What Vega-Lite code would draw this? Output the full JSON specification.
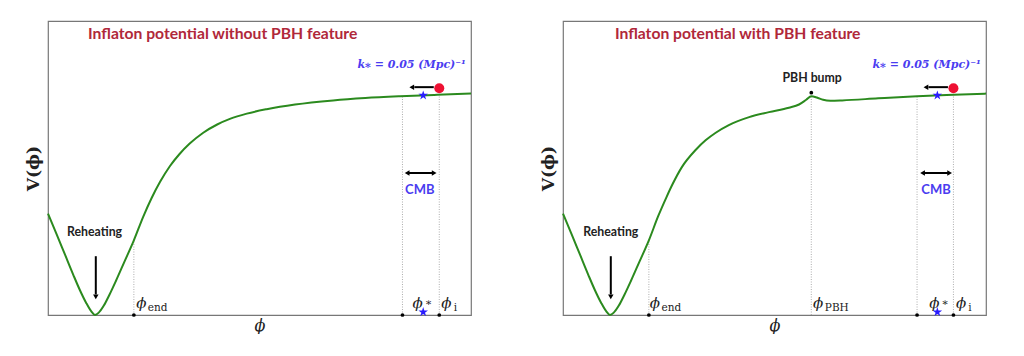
{
  "$schema": "https://vega.github.io/schema/vega-lite/v6.json",
  "padding": {"left": 23, "top": 20, "right": 0, "bottom": 0},
  "background": "white",
  "spacing": 62,
  "config": {
    "view": {"stroke": "#777777", "strokeWidth": 1.2},
    "axis": {"domain": false, "ticks": false, "labels": false, "grid": false}
  },
  "hconcat": [
    {
      "width": 423,
      "height": 294,
      "encoding": {
        "x": {"field": "x", "type": "quantitative", "scale": {"domain": [0, 100], "nice": false, "zero": false},
              "axis": {"title": "ϕ", "titleFont": "DejaVu Serif", "titleFontStyle": "italic", "titleFontWeight": "normal", "titleFontSize": 16, "titlePadding": 2, "titleColor": "#222"}},
        "y": {"field": "y", "type": "quantitative", "scale": {"domain": [0, 100], "nice": false, "zero": false},
              "axis": {"title": "V(ϕ)", "titleFont": "DejaVu Serif", "titleFontWeight": "bold", "titleFontSize": 17, "titlePadding": 6, "titleColor": "#222"}}
      },
      "layer": [
        {
          "data": {"values": [
            {"x": 20.3, "y": 0, "y2": 25.4},
            {"x": 83.8, "y": 0, "y2": 74.3},
            {"x": 92.5, "y": 0, "y2": 77}
          ]},
          "mark": {"type": "rule", "color": "#999999", "strokeWidth": 0.8, "strokeDash": [1, 1.5]},
          "encoding": {"y2": {"field": "y2"}}
        },
        {
          "data": {"values": [
            {"x": 0, "y": 34.5}, {"x": 2, "y": 27.6}, {"x": 4, "y": 20.6}, {"x": 6, "y": 13.6},
            {"x": 7.5, "y": 8.6}, {"x": 9, "y": 4.2}, {"x": 10.2, "y": 1.3}, {"x": 11.1, "y": 0},
            {"x": 12.0, "y": 0.8}, {"x": 13.2, "y": 3.2}, {"x": 14.5, "y": 6.8}, {"x": 16, "y": 11.4},
            {"x": 18, "y": 17.9}, {"x": 20.3, "y": 25.4}, {"x": 22.5, "y": 33.4}, {"x": 24.5, "y": 39.8},
            {"x": 26.5, "y": 45.3}, {"x": 28.8, "y": 50.6}, {"x": 31, "y": 54.6}, {"x": 33.5, "y": 58.3},
            {"x": 36.7, "y": 62.0}, {"x": 40, "y": 64.8}, {"x": 43, "y": 66.7}, {"x": 47, "y": 68.5},
            {"x": 51.7, "y": 70.0}, {"x": 58.4, "y": 71.6}, {"x": 67.4, "y": 73.0}, {"x": 75, "y": 73.8},
            {"x": 83.2, "y": 74.4}, {"x": 92, "y": 74.9}, {"x": 100, "y": 75.3}
          ]},
          "mark": {"type": "line", "interpolate": "monotone", "color": "#2b8a1e", "strokeWidth": 2}
        },
        {
          "data": {"values": [{"x": 20.3, "y": 0}, {"x": 83.8, "y": 0}, {"x": 92.5, "y": 0}]},
          "mark": {"type": "point", "filled": true, "color": "black", "size": 14, "opacity": 1}
        },
        {
          "data": {"values": [{"x": 88.7, "y": 74.7}, {"x": 88.7, "y": 1.0}]},
          "mark": {"type": "point", "filled": true, "color": "#2a1cff", "size": 100, "opacity": 1,
                   "shape": "M0,-1L0.22,-0.31L0.95,-0.31L0.36,0.12L0.59,0.81L0,0.38L-0.59,0.81L-0.36,0.12L-0.95,-0.31L-0.22,-0.31Z"}
        },
        {
          "data": {"values": [{"x": 92.5, "y": 77.1}]},
          "mark": {"type": "point", "filled": true, "color": "#ee1133", "size": 100, "opacity": 1}
        },
        {
          "data": {"values": [{"x": 86.6, "x2": 91.2, "y": 77.5}, {"x": 85.2, "x2": 90.9, "y": 48.3}]},
          "mark": {"type": "rule", "color": "black", "strokeWidth": 2},
          "encoding": {"x2": {"field": "x2"}}
        },
        {
          "data": {"values": [{"x": 11.3, "y": 20, "y2": 7}]},
          "mark": {"type": "rule", "color": "black", "strokeWidth": 2},
          "encoding": {"y2": {"field": "y2"}}
        },
        {
          "data": {"values": [{"x": 86.0, "y": 77.5}, {"x": 84.9, "y": 48.3}]},
          "mark": {"type": "point", "filled": true, "color": "black", "size": 30, "opacity": 1, "shape": "triangle-left"}
        },
        {
          "data": {"values": [{"x": 91.3, "y": 48.3}]},
          "mark": {"type": "point", "filled": true, "color": "black", "size": 30, "opacity": 1, "shape": "triangle-right"}
        },
        {
          "data": {"values": [{"x": 11.3, "y": 6.2}]},
          "mark": {"type": "point", "filled": true, "color": "black", "size": 30, "opacity": 1, "shape": "triangle-down"}
        },
        {
          "data": {"values": [{"x": 41.3, "y": 95.6, "label": "Inflaton potential without PBH feature"}]},
          "mark": {"type": "text", "font": "Lato", "fontWeight": "bold", "fontSize": 15.7, "color": "#b0283a", "align": "center", "baseline": "middle"},
          "encoding": {"text": {"field": "label"}}
        },
        {
          "data": {"values": [{"x": 11, "y": 28.3, "label": "Reheating"}]},
          "mark": {"type": "text", "font": "Lato", "fontWeight": "bold", "fontSize": 12.3, "color": "#222222", "align": "center", "baseline": "middle"},
          "encoding": {"text": {"field": "label"}}
        },
        {
          "data": {"values": [{"x": 87.9, "y": 42.4, "label": "CMB"}]},
          "mark": {"type": "text", "font": "Lato", "fontWeight": "bold", "fontSize": 13, "color": "#4a3cf0", "align": "center", "baseline": "middle"},
          "encoding": {"text": {"field": "label"}}
        },
        {
          "data": {"values": [{"x": 98.8, "y": 85, "label": "k⁎ = 0.05 (Mpc)⁻¹"}]},
          "mark": {"type": "text", "font": "DejaVu Serif", "fontWeight": "bold", "fontStyle": "italic", "fontSize": 11, "color": "#4a3cf0", "align": "right", "baseline": "middle"},
          "encoding": {"text": {"field": "label"}}
        },
        {
          "data": {"values": [{"x": 22.1, "y": 2.4, "label": "ϕ"}, {"x": 87.4, "y": 2.4, "label": "ϕ"}, {"x": 94.2, "y": 2.4, "label": "ϕ"}]},
          "mark": {"type": "text", "font": "DejaVu Serif", "fontStyle": "italic", "fontSize": 15, "color": "#222222", "align": "center", "baseline": "alphabetic"},
          "encoding": {"text": {"field": "label"}}
        },
        {
          "data": {"values": [{"x": 23.6, "y": 1.4, "label": "end"}, {"x": 89.1, "y": 3.0, "label": "∗"}, {"x": 95.9, "y": 1.4, "label": "i"}]},
          "mark": {"type": "text", "font": "DejaVu Serif", "fontSize": 10.5, "color": "#222222", "align": "left", "baseline": "alphabetic"},
          "encoding": {"text": {"field": "label"}}
        }
      ]
    },
    {
      "width": 423,
      "height": 294,
      "encoding": {
        "x": {"field": "x", "type": "quantitative", "scale": {"domain": [0, 100], "nice": false, "zero": false},
              "axis": {"title": "ϕ", "titleFont": "DejaVu Serif", "titleFontStyle": "italic", "titleFontWeight": "normal", "titleFontSize": 16, "titlePadding": 2, "titleColor": "#222"}},
        "y": {"field": "y", "type": "quantitative", "scale": {"domain": [0, 100], "nice": false, "zero": false},
              "axis": {"title": "V(ϕ)", "titleFont": "DejaVu Serif", "titleFontWeight": "bold", "titleFontSize": 17, "titlePadding": 6, "titleColor": "#222"}}
      },
      "layer": [
        {
          "data": {"values": [
            {"x": 20.3, "y": 0, "y2": 25.4},
            {"x": 58.7, "y": 0, "y2": 74.4},
            {"x": 83.7, "y": 0, "y2": 74.4},
            {"x": 92.3, "y": 0, "y2": 77}
          ]},
          "mark": {"type": "rule", "color": "#999999", "strokeWidth": 0.8, "strokeDash": [1, 1.5]},
          "encoding": {"y2": {"field": "y2"}}
        },
        {
          "data": {"values": [
            {"x": 0, "y": 34.5}, {"x": 2, "y": 27.6}, {"x": 4, "y": 20.6}, {"x": 6, "y": 13.6},
            {"x": 7.5, "y": 8.6}, {"x": 9, "y": 4.2}, {"x": 10.2, "y": 1.3}, {"x": 11.1, "y": 0},
            {"x": 12.0, "y": 0.8}, {"x": 13.2, "y": 3.2}, {"x": 14.5, "y": 6.8}, {"x": 16, "y": 11.4},
            {"x": 18, "y": 17.9}, {"x": 20.3, "y": 25.4}, {"x": 22.5, "y": 33.6}, {"x": 24.5, "y": 40.2},
            {"x": 25.8, "y": 44.2}, {"x": 28.1, "y": 50.3}, {"x": 31.4, "y": 56.2}, {"x": 33.7, "y": 59.4},
            {"x": 36.1, "y": 62.0}, {"x": 39.2, "y": 64.6}, {"x": 44.0, "y": 67.3}, {"x": 48.7, "y": 69.0},
            {"x": 53.4, "y": 70.5}, {"x": 55.8, "y": 71.6}, {"x": 57.5, "y": 73.2}, {"x": 58.7, "y": 74.4},
            {"x": 60.0, "y": 74.0}, {"x": 61.5, "y": 73.2}, {"x": 63.2, "y": 72.9}, {"x": 66, "y": 73.0},
            {"x": 74.5, "y": 73.7}, {"x": 83.7, "y": 74.4}, {"x": 92.4, "y": 74.9}, {"x": 100, "y": 75.3}
          ]},
          "mark": {"type": "line", "interpolate": "monotone", "color": "#2b8a1e", "strokeWidth": 2}
        },
        {
          "data": {"values": [{"x": 20.3, "y": 0}, {"x": 83.7, "y": 0}, {"x": 92.3, "y": 0}, {"x": 58.7, "y": 75.6}]},
          "mark": {"type": "point", "filled": true, "color": "black", "size": 14, "opacity": 1}
        },
        {
          "data": {"values": [{"x": 88.5, "y": 74.7}, {"x": 88.5, "y": 1.0}]},
          "mark": {"type": "point", "filled": true, "color": "#2a1cff", "size": 100, "opacity": 1,
                   "shape": "M0,-1L0.22,-0.31L0.95,-0.31L0.36,0.12L0.59,0.81L0,0.38L-0.59,0.81L-0.36,0.12L-0.95,-0.31L-0.22,-0.31Z"}
        },
        {
          "data": {"values": [{"x": 92.3, "y": 77.1}]},
          "mark": {"type": "point", "filled": true, "color": "#ee1133", "size": 100, "opacity": 1}
        },
        {
          "data": {"values": [{"x": 86.4, "x2": 91.0, "y": 77.5}, {"x": 85.3, "x2": 91.0, "y": 48.3}]},
          "mark": {"type": "rule", "color": "black", "strokeWidth": 2},
          "encoding": {"x2": {"field": "x2"}}
        },
        {
          "data": {"values": [{"x": 11.3, "y": 20, "y2": 7}]},
          "mark": {"type": "rule", "color": "black", "strokeWidth": 2},
          "encoding": {"y2": {"field": "y2"}}
        },
        {
          "data": {"values": [{"x": 85.8, "y": 77.5}, {"x": 85.0, "y": 48.3}]},
          "mark": {"type": "point", "filled": true, "color": "black", "size": 30, "opacity": 1, "shape": "triangle-left"}
        },
        {
          "data": {"values": [{"x": 91.4, "y": 48.3}]},
          "mark": {"type": "point", "filled": true, "color": "black", "size": 30, "opacity": 1, "shape": "triangle-right"}
        },
        {
          "data": {"values": [{"x": 11.3, "y": 6.2}]},
          "mark": {"type": "point", "filled": true, "color": "black", "size": 30, "opacity": 1, "shape": "triangle-down"}
        },
        {
          "data": {"values": [{"x": 41.3, "y": 95.6, "label": "Inflaton potential with PBH feature"}]},
          "mark": {"type": "text", "font": "Lato", "fontWeight": "bold", "fontSize": 15.7, "color": "#b0283a", "align": "center", "baseline": "middle"},
          "encoding": {"text": {"field": "label"}}
        },
        {
          "data": {"values": [{"x": 11.3, "y": 28.3, "label": "Reheating"}, {"x": 58.9, "y": 80.5, "label": "PBH bump"}]},
          "mark": {"type": "text", "font": "Lato", "fontWeight": "bold", "fontSize": 12.3, "color": "#222222", "align": "center", "baseline": "middle"},
          "encoding": {"text": {"field": "label"}}
        },
        {
          "data": {"values": [{"x": 88.2, "y": 42.4, "label": "CMB"}]},
          "mark": {"type": "text", "font": "Lato", "fontWeight": "bold", "fontSize": 13, "color": "#4a3cf0", "align": "center", "baseline": "middle"},
          "encoding": {"text": {"field": "label"}}
        },
        {
          "data": {"values": [{"x": 98.8, "y": 85, "label": "k⁎ = 0.05 (Mpc)⁻¹"}]},
          "mark": {"type": "text", "font": "DejaVu Serif", "fontWeight": "bold", "fontStyle": "italic", "fontSize": 11, "color": "#4a3cf0", "align": "right", "baseline": "middle"},
          "encoding": {"text": {"field": "label"}}
        },
        {
          "data": {"values": [{"x": 21.7, "y": 2.4, "label": "ϕ"}, {"x": 60.3, "y": 2.4, "label": "ϕ"}, {"x": 87.8, "y": 2.4, "label": "ϕ"}, {"x": 94.1, "y": 2.4, "label": "ϕ"}]},
          "mark": {"type": "text", "font": "DejaVu Serif", "fontStyle": "italic", "fontSize": 15, "color": "#222222", "align": "center", "baseline": "alphabetic"},
          "encoding": {"text": {"field": "label"}}
        },
        {
          "data": {"values": [{"x": 23.3, "y": 1.4, "label": "end"}, {"x": 61.9, "y": 1.4, "label": "PBH"}, {"x": 89.5, "y": 3.0, "label": "∗"}, {"x": 95.8, "y": 1.4, "label": "i"}]},
          "mark": {"type": "text", "font": "DejaVu Serif", "fontSize": 10.5, "color": "#222222", "align": "left", "baseline": "alphabetic"},
          "encoding": {"text": {"field": "label"}}
        }
      ]
    }
  ]
}
